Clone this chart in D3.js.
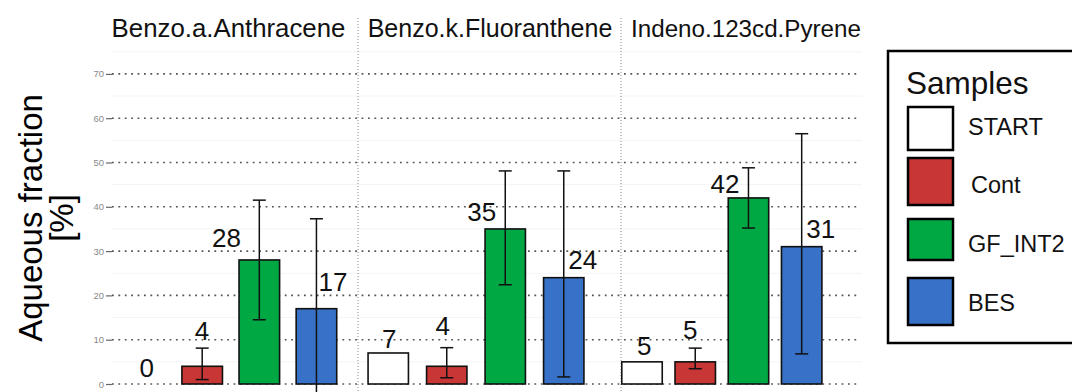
<!DOCTYPE html>
<html>
<head>
<meta charset="utf-8">
<script src="https://cdn.jsdelivr.net/npm/d3@7"></script>
<style>
  html, body { margin: 0; padding: 0; background: #ffffff; }
  svg { display: block; font-family: "Liberation Sans", Arial, sans-serif; }
</style>
</head>
<body>
<svg id="chart" width="1072" height="392"></svg>
<script>
// Compounds (facets) and sample groups
const compounds = ["Benzo.a.Anthracene", "Benzo.k.Fluoranthene", "Indeno.123cd.Pyrene"];
const samples = ["START", "Cont", "GF_INT2", "BES"];

// Mean aqueous fraction [%] per sample, one array per compound
const benzoAMean = [0, 4, 28, 17];
const benzoKMean = [7, 4, 35, 24];
const indenoMean = [5, 5, 42, 31];

// Error bar limits (null = no error bar)
const benzoALow  = [null, 1.0, 14.5, -3.3];
const benzoAHigh = [null, 8.1, 41.5, 37.3];
const benzoKLow  = [null, 1.4, 22.4, 1.6];
const benzoKHigh = [null, 8.2, 48.1, 48.1];
const indenoLow  = [null, 3.45, 35.2, 6.8];
const indenoHigh = [null, 8.1, 48.8, 56.5];

// Y axis ticks
const yTicks = [0, 10, 20, 30, 40, 50, 60, 70];
const yMinor = [5, 15, 25, 35, 45, 55, 65, 75];

const sampleColors = ["#ffffff", "#c83636", "#00a844", "#3771c8"];

// ---- layout ----
const svg = d3.select("#chart");
const gridLeft = 112, gridRight = 858;
const y = d3.scaleLinear().domain([0, 70]).range([384, 73.9]);

// per-facet band ranges, padding and strip title placement
const facetBands = [
  { range: [116.5, 345.0], pad: 0.29, titleX: 228.5, titleSize: 25.8 },
  { range: [359.0, 593.0], pad: 0.31, titleX: 490, titleSize: 25 },
  { range: [615.4, 828.3], pad: 0.24, titleX: 746, titleSize: 24.2 }
];
const separators = [358, 621];

// value label nudges (px) relative to bar centre / bar top
const labelNudge = [
  [[1.7, -7.3], [-0.3, -26.3], [-32.8, -13.2], [16.5, -17.7]],
  [[1.0, -4.7], [-4.0, -31.3], [-23.5, -7.9], [19.0, -8.4]],
  [[2.3, -6.8], [-5.0, -22.5], [-23.5, -4.6], [19.0, -8.4]]
];

const facetData = [
  { name: compounds[0], mean: benzoAMean, lo: benzoALow, hi: benzoAHigh },
  { name: compounds[1], mean: benzoKMean, lo: benzoKLow, hi: benzoKHigh },
  { name: compounds[2], mean: indenoMean, lo: indenoLow, hi: indenoHigh }
];

// faint minor grid
svg.append("g").selectAll("line").data(yMinor).join("line")
  .attr("x1", gridLeft).attr("x2", gridRight + 4)
  .attr("y1", d => y(d)).attr("y2", d => y(d))
  .attr("stroke", "#f4f4f4").attr("stroke-width", 1);

// dotted major grid
svg.append("g").selectAll("line").data(yTicks).join("line")
  .attr("x1", gridLeft).attr("x2", gridRight)
  .attr("y1", d => y(d)).attr("y2", d => y(d))
  .attr("stroke", "#555").attr("stroke-width", 1.6)
  .attr("stroke-dasharray", "1.8 4.6");

// facet separators
svg.append("g").selectAll("line").data(separators).join("line")
  .attr("x1", d => d).attr("x2", d => d)
  .attr("y1", 18).attr("y2", 392)
  .attr("stroke", "#8a8a8a").attr("stroke-width", 1)
  .attr("stroke-dasharray", "1 2");

// y axis
const yAxis = d3.axisLeft(y).tickValues(yTicks).tickSize(6).tickPadding(2);
const ag = svg.append("g").attr("transform", `translate(${gridLeft},0)`).call(yAxis);
ag.select(".domain").remove();
ag.selectAll(".tick line").attr("stroke", "#666").attr("stroke-width", 1.2);
ag.selectAll(".tick text").attr("fill", "#8a8a8a")
  .style("font-size", "9.5px").style("font-family", "'Liberation Sans', Arial, sans-serif");

// y title
const yt = svg.append("text")
  .attr("transform", "translate(42,218) rotate(-90)")
  .attr("text-anchor", "middle")
  .style("font-size", "33px").attr("fill", "#000");
yt.append("tspan").attr("x", 0).attr("dy", 0).text("Aqueous fraction");
yt.append("tspan").attr("x", 0).attr("dy", 31).text("[%]");

// facets
facetData.forEach((f, fi) => {
  const fb = facetBands[fi];
  const x = d3.scaleBand().domain(samples).range(fb.range)
    .paddingInner(fb.pad).paddingOuter(fb.pad / 2);
  const g = svg.append("g");

  svg.append("text").attr("x", fb.titleX).attr("y", 37)
    .attr("text-anchor", "middle").style("font-size", fb.titleSize + "px")
    .attr("fill", "#111").text(f.name);

  const rows = samples.map((s, i) => ({ s, i, v: f.mean[i], lo: f.lo[i], hi: f.hi[i] }));

  g.selectAll("rect").data(rows.filter(d => d.v > 0)).join("rect")
    .attr("x", d => x(d.s)).attr("width", x.bandwidth())
    .attr("y", d => y(d.v)).attr("height", d => y(0) - y(d.v))
    .attr("fill", d => sampleColors[d.i])
    .attr("stroke", "#111").attr("stroke-width", 1.6);

  const eb = rows.filter(d => d.lo !== null);
  const cx = d => x(d.s) + x.bandwidth() / 2;
  g.selectAll(".eb").data(eb).join("line").attr("class", "eb")
    .attr("x1", cx).attr("x2", cx)
    .attr("y1", d => y(d.lo)).attr("y2", d => y(d.hi))
    .attr("stroke", "#111").attr("stroke-width", 1.5);
  ["lo", "hi"].forEach(k => {
    g.selectAll(".cap-" + k).data(eb).join("line").attr("class", "cap-" + k)
      .attr("x1", d => cx(d) - 6.5).attr("x2", d => cx(d) + 6.5)
      .attr("y1", d => y(d[k])).attr("y2", d => y(d[k]))
      .attr("stroke", "#111").attr("stroke-width", 1.5);
  });

  g.selectAll(".lbl").data(rows).join("text").attr("class", "lbl")
    .attr("x", d => cx(d) + labelNudge[fi][d.i][0])
    .attr("y", d => y(d.v) + labelNudge[fi][d.i][1])
    .attr("text-anchor", "middle").style("font-size", "26px")
    .attr("fill", "#111").text(d => d3.format("d")(d.v));
});

// legend
const lg = svg.append("g");
lg.append("rect").attr("x", 888).attr("y", 51).attr("width", 200).attr("height", 292)
  .attr("fill", "#fff").attr("stroke", "#000").attr("stroke-width", 2.5);
lg.append("text").attr("x", 906).attr("y", 94).style("font-size", "31.5px")
  .attr("fill", "#111").text("Samples");
const keyTops = [107, 158, 219, 278];
const keyHeights = [43, 47, 41, 47];
const keyLabelY = [135, 193, 252, 311];
const keyLabelX = [968, 971, 968, 968];
lg.selectAll(".key").data(samples).join("rect").attr("class", "key")
  .attr("x", 908).attr("width", 45)
  .attr("y", (d, i) => keyTops[i]).attr("height", (d, i) => keyHeights[i])
  .attr("fill", (d, i) => sampleColors[i])
  .attr("stroke", "#000").attr("stroke-width", 2.5);
lg.selectAll(".klbl").data(samples).join("text").attr("class", "klbl")
  .attr("x", (d, i) => keyLabelX[i]).attr("y", (d, i) => keyLabelY[i])
  .style("font-size", "23.5px").attr("fill", "#111").text(d => d);
</script>
</body>
</html>
